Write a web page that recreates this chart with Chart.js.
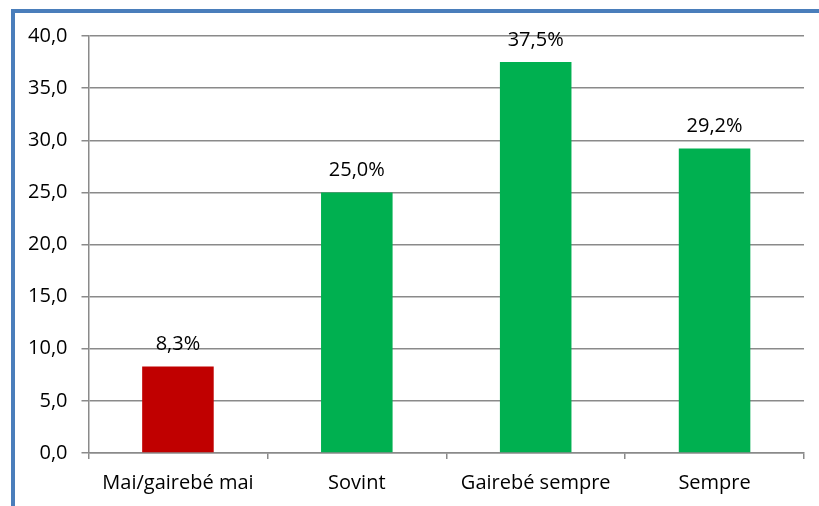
<!DOCTYPE html>
<html>
<head>
<meta charset="utf-8">
<script src="https://cdn.jsdelivr.net/npm/chart.js@4"></script>
<style>
  html, body { margin:0; padding:0; background:#fff; }
  #wrap { width:819px; height:506px; position:relative; }
</style>
</head>
<body>
<div id="wrap"><canvas id="freqChart" width="819" height="506"></canvas></div>
<script>
(function () {
    'use strict';

    /* ── Dades ─────────────────────────────────────────── */
    var categories = ['Mai/gairebé mai', 'Sovint', 'Gairebé sempre', 'Sempre'];
    var percents   = [8.3, 25.0, 37.5, 29.2];
    var barColors  = ['#C00000', '#00B050', '#00B050', '#00B050'];
    var yTicks     = [0, 5, 10, 15, 20, 25, 30, 35, 40];

    var FONT = '"Open Sans", sans-serif';
    var FS = 20;
    var GRID = '#8a8a8a';

    function comma(v, d) { return v.toFixed(d).replace('.', ','); }

    Chart.defaults.animation = false;
    Chart.defaults.font.family = FONT;
    Chart.defaults.font.size = FS;
    Chart.defaults.color = '#000';

    /* marc blau de l'objecte gràfic */
    var frame = {
        id: 'frame',
        beforeDraw: function (chart) {
            var c = chart.ctx;
            c.save();
            c.fillStyle = '#fff';
            c.fillRect(0, 0, chart.width, chart.height);
            c.fillStyle = '#4A7EBB';
            c.fillRect(11, 9, 4, chart.height);
            c.fillRect(11, 9, chart.width, 4);
            c.restore();
        }
    };

    /* etiquetes de dades sobre les barres */
    var valueLabels = {
        id: 'valueLabels',
        afterDatasetsDraw: function (chart) {
            var c = chart.ctx;
            var meta = chart.getDatasetMeta(0);
            c.save();
            c.font = FS + 'px ' + FONT;
            c.fillStyle = '#000';
            c.textAlign = 'center';
            c.textBaseline = 'middle';
            meta.data.forEach(function (bar, i) {
                c.fillText(comma(percents[i], 1) + '%', bar.x, bar.y - 22);
            });
            c.restore();
        }
    };

    new Chart(document.getElementById('freqChart'), {
        type: 'bar',
        data: {
            labels: categories,
            datasets: [{
                data: percents,
                backgroundColor: barColors,
                borderWidth: 0,
                categoryPercentage: 0.4,
                barPercentage: 1.0
            }]
        },
        options: {
            responsive: false,
            layout: { padding: { left: 0, right: 15, top: 36, bottom: 0 } },
            plugins: { legend: { display: false }, tooltip: { enabled: false } },
            scales: {
                x: {
                    grid: { display: true, offset: true, drawOnChartArea: false, drawTicks: true,
                            tickLength: 6, color: GRID, lineWidth: 1.5 },
                    border: { color: GRID, width: 1.5 },
                    ticks: { padding: 12, font: { size: FS }, color: '#000', maxRotation: 0 },
                    afterFit: function (s) { s.height = 53; }
                },
                y: {
                    min: 0, max: 40,
                    afterBuildTicks: function (s) { s.ticks = yTicks.map(function (v) { return { value: v }; }); },
                    grid: { color: GRID, lineWidth: 1.5, tickLength: 7 },
                    border: { color: GRID, width: 1.5 },
                    ticks: { padding: 14, font: { size: FS }, color: '#000',
                             callback: function (v) { return comma(v, 1); } },
                    afterFit: function (s) { s.width = 88.5; }
                }
            }
        },
        plugins: [frame, valueLabels]
    });
})();
</script>
</body>
</html>
